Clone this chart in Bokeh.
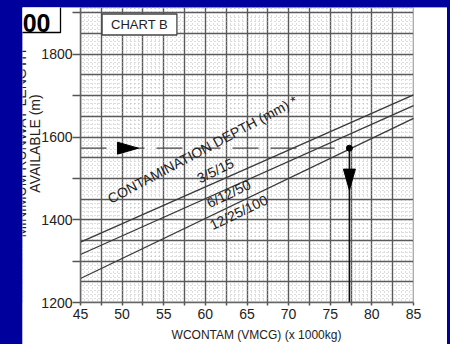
import numpy as np
from bokeh.plotting import figure
from bokeh.models import FixedTicker, Label, Range1d
from bokeh.layouts import column
from bokeh.embed import file_html
from bokeh.resources import INLINE

# ---------------- data ----------------
weights = [45, 85]                      # W contam (x 1000 kg)
line_3_5_15 = [1346, 1702]              # runway length (m)
line_6_12_50 = [1316, 1676]
line_12_25_100 = [1258, 1645]
depth_labels = ["3/5/15", "6/12/50", "12/25/100"]
depth_label_x = [61.2, 62.8, 64.0]
depth_label_y = [1519, 1463, 1418]
example_weight = 77.3
example_length = 1573
h_arrow_x = 50.7
v_arrow_y = 1497
x_ticks = [45, 47.5, 50, 52.5, 55, 57.5, 60, 62.5, 65, 67.5, 70, 72.5, 75, 77.5, 80, 82.5, 85]
x_tick_labels = ["45", "", "50", "", "55", "", "60", "", "65", "", "70", "", "75", "", "80", "", "85"]
y_ticks = [1200, 1300, 1400, 1500, 1600, 1700, 1800, 1900]
y_tick_labels = ["1200", "", "1400", "", "1600", "", "1800", ""]

X0, X1 = 45, 85
Y0, Y1 = 1200, 1913
FONT = "Liberation Sans"
BLUE = "#00009C"
TXT = "#222222"

# canvas = white panel; the plotting frame fills it, axes sit at fixed data positions
W, H = 425, 337
PL, PR, PB = 58, 34, 42          # pixel room left / right / below the chart grid
GW, GH = W - PL - PR, H - PB
ux = (X1 - X0) / GW
uy = (Y1 - Y0) / GH
xs0, xs1 = X0 - PL * ux, X1 + PR * ux
ys0 = Y0 - PB * uy


def px(x):   # page pixel -> data x
    return X0 + (x - 80) * ux


def py(y):   # page pixel -> data y
    return Y0 + (302 - y) * uy


p = figure(width=W, height=H, output_backend="svg", toolbar_location=None,
           x_range=Range1d(xs0, xs1), y_range=Range1d(ys0, Y1),
           min_border_left=0, min_border_right=0, min_border_top=0, min_border_bottom=0,
           background_fill_color="white", border_fill_color="white")
p.outline_line_color = None

# grids
p.xgrid.ticker = FixedTicker(ticks=list(np.arange(45, 85.01, 2.5)), minor_ticks=list(np.arange(45, 85.01, 0.5)))
p.ygrid.ticker = FixedTicker(ticks=list(np.arange(1200, 1950, 50)), minor_ticks=list(np.arange(1200, 1950, 10)))
p.xgrid.bounds = (X0, X1)
p.ygrid.bounds = (Y0, Y1)
for g in (p.xgrid, p.ygrid):
    g.grid_line_color = "#5a5a5a"
    g.grid_line_width = 1.4
    g.minor_grid_line_color = "#bdbdbd"
    g.minor_grid_line_width = 1
    g.minor_grid_line_dash = "1 3"

# white masks outside the chart grid (drawn above the grid, below axes and text)
p.quad(left=[xs0, X1, xs0], right=[X0, xs1, xs1], bottom=[ys0, ys0, ys0], top=[Y1, Y1, Y0],
       fill_color="white", line_color=None)

# axes
p.xaxis.fixed_location = Y0
p.yaxis.fixed_location = X0
p.xaxis.bounds = (X0, X1)
p.yaxis.bounds = (Y0, Y1)
p.xaxis.ticker = FixedTicker(ticks=x_ticks)
p.xaxis.major_label_overrides = {t: l for t, l in zip(x_ticks, x_tick_labels)}
p.yaxis.ticker = FixedTicker(ticks=y_ticks)
p.yaxis.major_label_overrides = {t: l for t, l in zip(y_ticks, y_tick_labels)}
for ax in (p.xaxis, p.yaxis):
    ax.axis_line_color = "#666666"
    ax.axis_line_width = 1.5
    ax.major_tick_line_color = "#555555"
    ax.major_tick_line_width = 1.5
    ax.minor_tick_line_color = None
    ax.major_label_text_font = FONT
    ax.major_label_text_font_size = "14px"
    ax.major_label_text_color = TXT
p.xaxis.major_tick_in = 0
p.xaxis.major_tick_out = 3
p.xaxis.major_label_standoff = 3
p.yaxis.major_tick_in = 0
p.yaxis.major_tick_out = 8
p.yaxis.major_label_standoff = 0

# contamination lines
for ys in (line_3_5_15, line_6_12_50, line_12_25_100):
    p.line(weights, ys, line_color="#3a3a3a", line_width=1.3)

# example path
p.line([X0, example_weight], [example_length, example_length], line_color="#444444",
       line_width=1.3, line_dash="26 12")
p.line([example_weight, example_weight], [Y0, example_length], line_color="#111111", line_width=1.6)
p.scatter([example_weight], [example_length], size=6, color="black")

# arrows (length 21 px, width 12 px)
L, Wd = 21, 12
p.patch([h_arrow_x - L / 2 * ux, h_arrow_x + L / 2 * ux, h_arrow_x - L / 2 * ux],
        [example_length + Wd / 2 * uy, example_length, example_length - Wd / 2 * uy],
        color="black")
p.patch([example_weight - Wd / 2 * ux, example_weight, example_weight + Wd / 2 * ux],
        [v_arrow_y + L / 2 * uy, v_arrow_y - L / 2 * uy, v_arrow_y + L / 2 * uy],
        color="black")

# line labels
for t, x, y in zip(depth_labels, depth_label_x, depth_label_y):
    p.add_layout(Label(x=x, y=y, text=t, angle=0.45, text_align="center", text_baseline="middle",
                       text_font=FONT, text_font_size="14px", text_color=TXT))
p.add_layout(Label(x=px(202), y=py(149), text="CONTAMINATION DEPTH (mm) *", angle=0.49,
                   text_align="center", text_baseline="middle",
                   text_font=FONT, text_font_size="14px", text_color=TXT))

# chart B box
p.add_layout(Label(x=px(139), y=py(24), text="CHART B", text_align="center", text_baseline="middle",
                   text_font=FONT, text_font_size="13px", text_color=TXT,
                   background_fill_color="white", border_line_color="#444444", border_line_width=1.3,
                   padding=dict(left=9, right=9, top=3, bottom=3)))

# cut title box at top left (anchor = box corner)
p.add_layout(Label(x=px(60), y=py(32), text="00", text_align="right",
                   text_baseline="bottom", text_font=FONT, text_font_style="bold",
                   text_font_size="25px", text_color="black",
                   background_fill_color="white", border_line_color="black", border_line_width=1.3,
                   padding=dict(left=12, right=10, top=16, bottom=1)))

# y-axis title (two lines; first line cut by the panel edge as in the original)
p.add_layout(Label(x=px(34), y=py(143), text="AVAILABLE (m)", angle=np.pi / 2,
                   text_align="center", text_baseline="middle",
                   text_font=FONT, text_font_size="14px", text_color=TXT))
p.add_layout(Label(x=px(20), y=py(143), text="MINIMUM RUNWAY LENGTH", angle=np.pi / 2,
                   text_align="center", text_baseline="middle",
                   text_font=FONT, text_font_size="14px", text_color=TXT))

# x-axis title
p.add_layout(Label(x=px(256), y=py(334), text="WCONTAM (VMCG) (x 1000kg)",
                   text_align="center", text_baseline="middle",
                   text_font=FONT, text_font_size="12px", text_color=TXT))

p.margin = (7, 3, 0, 22)
root = column(p, styles={"background-color": BLUE}, width=450, height=344)

open("out.html", "w").write(file_html(root, INLINE))
